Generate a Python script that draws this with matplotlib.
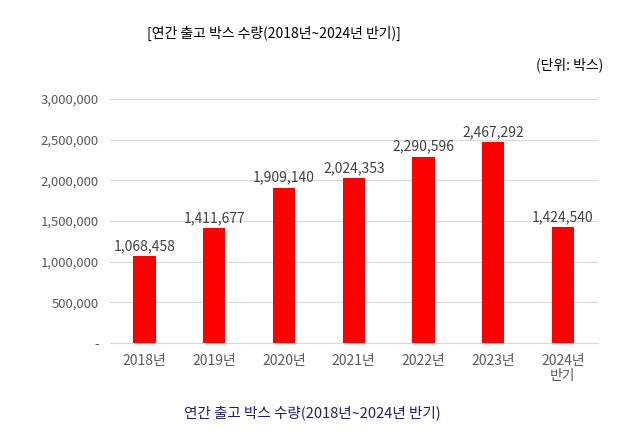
import matplotlib
matplotlib.use("Agg")
import matplotlib.pyplot as plt

plt.rcParams["font.family"] = ["Noto Sans CJK JP", "Noto Sans CJK KR", "Noto Sans CJK SC", "DejaVu Sans"]

categories = ["2018년", "2019년", "2020년", "2021년", "2022년", "2023년", "2024년\n반기"]
values = [1068458, 1411677, 1909140, 2024353, 2290596, 2467292, 1424540]
yticks = [0, 500000, 1000000, 1500000, 2000000, 2500000, 3000000]
ytick_labels = ["-", "500,000", "1,000,000", "1,500,000", "2,000,000", "2,500,000", "3,000,000"]

fig = plt.figure(figsize=(6.38, 4.42), dpi=100)
ax = fig.add_axes([0.172, 0.224, 0.765, 0.552])
x = range(len(categories))
ax.bar(x, values, width=0.32, color="#ff0000", zorder=3)
for xi, v in zip(x, values):
    ax.text(xi, v + 40000, f"{v:,}", ha="center", va="bottom", fontsize=10, color="#404040")
ax.set_ylim(0, 3000000)
ax.set_xlim(-0.5, len(categories) - 0.5)
ax.set_yticks(yticks)
ax.set_yticklabels(ytick_labels, fontsize=9.5, color="#595959")
ax.set_xticks(list(x))
ax.set_xticklabels(categories, fontsize=10, color="#595959", va="top", linespacing=1.1)
ax.yaxis.grid(True, color="#d9d9d9", linewidth=0.8, zorder=0)
ax.tick_params(length=0, pad=8)
for s in ["top", "right", "left"]:
    ax.spines[s].set_visible(False)
ax.spines["bottom"].set_color("#d9d9d9")

fig.text(0.43, 0.925, "[연간 출고 박스 수량(2018년~2024년 반기)]", ha="center", va="center", fontsize=10, color="#000000")
fig.text(0.945, 0.853, "(단위: 박스)", ha="right", va="center", fontsize=10, color="#000000")
fig.text(0.49, 0.065, "연간 출고 박스 수량(2018년~2024년 반기)", ha="center", va="center", fontsize=10.5, color="#1f1f6f")

fig.savefig("out.png", dpi=100, facecolor="white")
